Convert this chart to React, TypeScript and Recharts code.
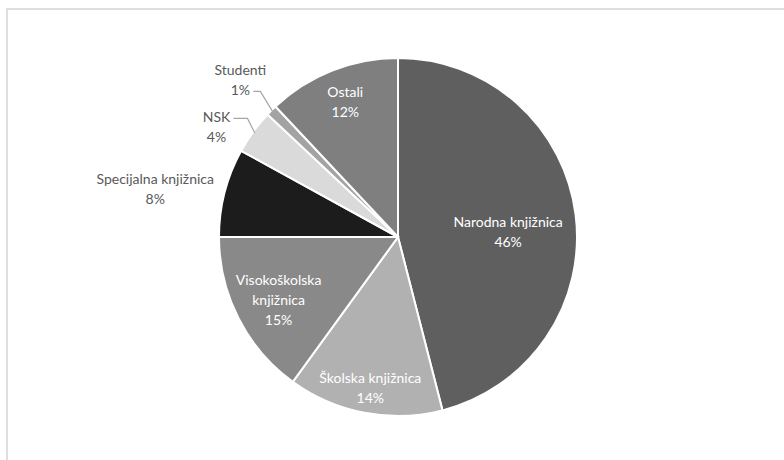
import React from 'react';
import { PieChart, Pie, Cell } from 'recharts';

// Data
const categories = ['Narodna knjižnica', 'Školska knjižnica', 'Visokoškolska knjižnica', 'Specijalna knjižnica', 'NSK', 'Studenti', 'Ostali'];
const shares = [46, 14, 15, 8, 4, 1, 12];

const data = categories.map((name, i) => ({ name, value: shares[i] }));

// Slice fills (grayscale like the original)
const FILLS = ['#5f5f5f', '#b1b1b1', '#898989', '#1c1c1c', '#dadada', '#a3a3a3', '#7f7f7f'];

const FONT = 'Lato, "Open Sans", sans-serif';
const RAD = Math.PI / 180;

// label placement: distance from centre, small nudges, wrapping, leader line
const LABELS: Record<string, { r: number; dx: number; dy: number; inside: boolean; wrap?: boolean; leader?: [number, number, number] }> = {
  'Narodna knjižnica': { r: 111, dx: 0, dy: 8, inside: true },
  'Školska knjižnica': { r: 153, dx: 1, dy: 0, inside: true },
  'Visokoškolska knjižnica': { r: 134, dx: 0, dy: 1, inside: true, wrap: true },
  'Specijalna knjižnica': { r: 230, dx: -20, dy: 8, inside: false },
  NSK: { r: 212, dx: -10, dy: 14, inside: false, leader: [17, 31, -8] },
  Studenti: { r: 223, dx: 0, dy: 0, inside: false, leader: [13, 20, 12] },
  Ostali: { r: 146, dx: 1, dy: 0, inside: true },
};

const renderLabel = (props: any) => {
  const { cx, cy, midAngle, outerRadius, name, value } = props;
  const cfg = LABELS[name];
  if (!cfg) return null;
  const cos = Math.cos(-midAngle * RAD);
  const sin = Math.sin(-midAngle * RAD);
  const x = cx + cfg.r * cos + cfg.dx;
  const y = cy + cfg.r * sin + cfg.dy;
  const lines = cfg.wrap ? [...name.split(' '), `${value}%`] : [name, `${value}%`];
  const lh = 20;
  const top = y - ((lines.length - 1) * lh) / 2;
  let leader = null;
  if (cfg.leader) {
    const [x0, x1, ly] = cfg.leader;
    const ex = cx + (outerRadius - 2) * cos;
    const ey = cy + (outerRadius - 2) * sin;
    leader = (
      <polyline
        points={`${x + x0},${y + ly} ${x + x1},${y + ly} ${ex},${ey}`}
        fill="none"
        stroke="#a6a6a6"
        strokeWidth={1.2}
      />
    );
  }
  return (
    <g>
      {leader}
      <text
        x={x}
        y={top}
        textAnchor="middle"
        dominantBaseline="central"
        fontFamily={FONT}
        fontSize={14}
        fill={cfg.inside ? '#ffffff' : '#595959'}
      >
        {lines.map((l, i) => (
          <tspan key={i} x={x} dy={i === 0 ? 0 : lh}>
            {l}
          </tspan>
        ))}
      </text>
    </g>
  );
};

export default function App() {
  return (
    <div style={{ position: 'absolute', left: 0, top: 0, width: 784, height: 460, overflow: 'hidden', background: '#fff' }}>
      <div
        style={{
          position: 'absolute',
          left: 6,
          top: 8,
          width: 820,
          height: 500,
          border: '2px solid #dedede',
          boxSizing: 'border-box',
        }}
      />
      <div style={{ position: 'absolute', left: 0, top: 0 }}>
        <PieChart width={784} height={460} margin={{ top: 0, right: 0, bottom: 0, left: 0 }}>
          <Pie
            data={data}
            dataKey="value"
            nameKey="name"
            cx={398}
            cy={237}
            outerRadius={179}
            startAngle={90}
            endAngle={-270}
            stroke="#ffffff"
            strokeWidth={2}
            label={renderLabel}
            labelLine={false}
            isAnimationActive={false}
          >
            {data.map((d, i) => (
              <Cell key={d.name} fill={FILLS[i]} />
            ))}
          </Pie>
        </PieChart>
      </div>
    </div>
  );
}
